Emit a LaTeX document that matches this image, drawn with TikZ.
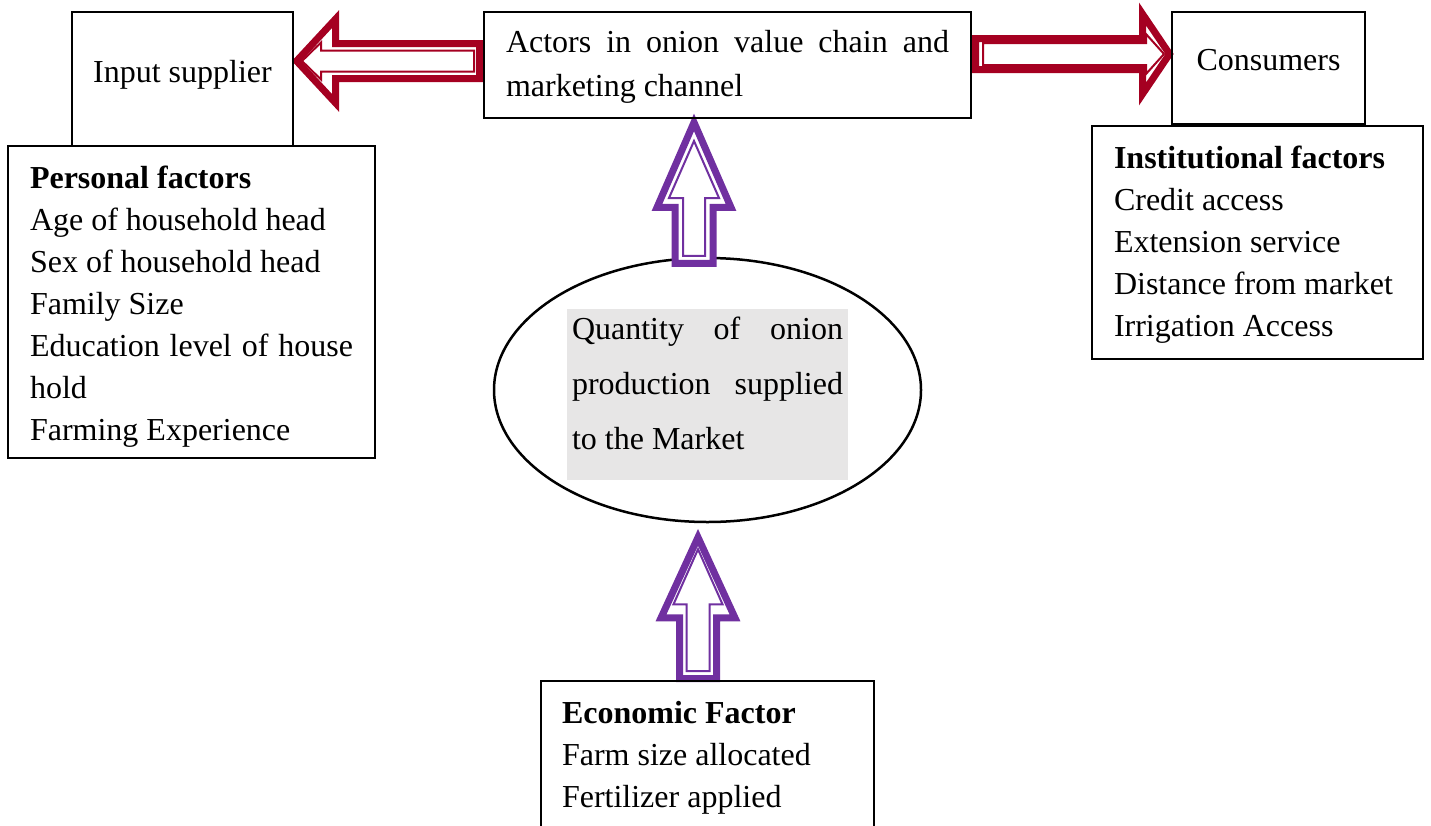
\documentclass[tikz,border=0pt]{standalone}
\usepackage{fontspec}
\setmainfont{Liberation Serif}
\usetikzlibrary{calc,shapes.geometric,backgrounds}
\definecolor{onionred}{RGB}{165,0,33}
\definecolor{onionpurple}{RGB}{112,48,160}
\definecolor{shadegray}{RGB}{231,230,230}

\tikzset{
  % block arrow parameters: start inset, tip inset, shaft half width, head half width, head length
  ba/.code n args={5}{\def\bastart{#1}\def\batip{#2}\def\bashaft{#3}\def\bahead{#4}\def\balen{#5}},
  blockarrow/.style={to path={
    ($(\tikztostart)!\bastart!(\tikztotarget)$) coordinate (ba-s)
    ($(\tikztotarget)!\batip!(\tikztostart)$) coordinate (ba-t)
    ($(ba-t)!\balen!(ba-s)$) coordinate (ba-b)
    ($(ba-s)!\bashaft!90:(ba-t)$) -- ($(ba-b)!\bashaft!-90:(ba-s)$)
      -- ($(ba-b)!\bahead!-90:(ba-s)$) -- (ba-t)
      -- ($(ba-b)!\bahead!90:(ba-s)$) -- ($(ba-b)!\bashaft!90:(ba-s)$)
      -- ($(ba-s)!\bashaft!-90:(ba-t)$) -- cycle}},
  outband/.style={draw=#1, line width=7pt, fill=white, line join=miter},
  inband/.style={draw=#1, line width=2pt, line join=miter},
  box/.style={draw, line width=2pt, inner sep=0pt},
  factor/.style={box, align=justify, inner xsep=22pt},
}

\begin{document}
\begin{tikzpicture}[x=1pt, y=-1pt, font=\fontsize{32}{42}\selectfont]
  \useasboundingbox (0,0) rectangle (1431,825);
  % Central ellipse (kept under the arrows)
  \begin{pgfonlayer}{background}
    \node[ellipse, draw, line width=2.5pt, minimum width=427pt, minimum height=264pt, inner sep=0pt]
      (qty) at (707.5,390) {};
  \end{pgfonlayer}
  \node[fill=shadegray, minimum width=281pt, minimum height=171pt, text width=271pt,
        inner xsep=5pt, inner ysep=0pt, align=justify, font=\fontsize{32}{55}\selectfont]
    (qtext) at (707.5,394.5)
    {Quantity of onion\linebreak production supplied\linebreak to the Market\rule[-22pt]{0pt}{22pt}};
  % Top row of boxes
  \node[box, minimum width=221pt, minimum height=134pt, text height=22pt, text depth=16pt]
    (inp) at (182.5,79) {Input supplier};
  \node[box, minimum width=487pt, minimum height=106pt, text width=443pt, align=justify,
        font=\fontsize{32}{44}\selectfont]
    (act) at (727.5,65) {\rule{0pt}{26pt}Actors in onion value chain and\linebreak marketing channel};
  \node[box, minimum width=193pt, minimum height=112pt, text height=22pt, text depth=18pt]
    (cons) at (1268.5,68) {Consumers};
  % Factor boxes
  \node[factor, minimum width=367pt, minimum height=312pt, text width=323pt] (pers) at (191.5,302)
    {\rule{0pt}{31pt}\textbf{Personal factors}\\ Age of household head\\ Sex of household head\\ Family Size\\
     Education level of house hold\\ Farming Experience};
  \node[factor, minimum width=331pt, minimum height=233pt, text width=287pt] (inst) at (1257.5,242.5)
    {\rule{0pt}{27pt}\textbf{Institutional factors}\\ Credit access\\ Extension service\\ Distance from market\\
     Irrigation Access};
  \node[factor, inner xsep=21pt, minimum width=333pt, minimum height=146pt, text width=291pt]
    (eco) at (707.5,754)
    {\rule{0pt}{30pt}\textbf{Economic Factor}\\ Farm size allocated\\ Fertilizer applied};
  % Block arrows (under the box borders)
  \begin{pgfonlayer}{background}
    % actors -> input supplier
    \draw[outband=onionred, ba={3.5pt}{2.6pt}{17.5pt}{42pt}{39pt}]
      ([yshift=4pt]act.west) to[blockarrow] ([yshift=18pt]inp.east);
    \draw[inband=onionred, ba={9pt}{8pt}{10.5pt}{18.5pt}{19pt}]
      ([yshift=4pt]act.west) to[blockarrow] ([yshift=18pt]inp.east);
    % actors -> consumers
    \draw[outband=onionred, ba={3.5pt}{1.5pt}{15.5pt}{40pt}{27pt}]
      ([yshift=11pt]act.east) to[blockarrow] ([yshift=14pt]cons.west);
    \draw[inband=onionred, ba={11pt}{7pt}{11pt}{20pt}{18pt}]
      ([yshift=11pt]act.east) to[blockarrow] ([yshift=14pt]cons.west);
    % quantity -> actors
    \draw[outband=onionpurple, ba={3.5pt}{8.4pt}{19pt}{37pt}{85pt}]
      ([xshift=-13.5pt,yshift=-10pt]qty.north) to[blockarrow] ([xshift=-33.5pt,yshift=5pt]act.south);
    \draw[inband=onionpurple, ba={11pt}{27pt}{11pt}{25pt}{57pt}]
      ([xshift=-13.5pt,yshift=-10pt]qty.north) to[blockarrow] ([xshift=-33.5pt,yshift=5pt]act.south);
    % economic factor -> quantity
    \draw[outband=onionpurple, ba={3.5pt}{8.1pt}{18.5pt}{37pt}{80.5pt}]
      ([xshift=-9.5pt,yshift=-2pt]eco.north) to[blockarrow] ([xshift=-9.5pt,yshift=-6pt]qty.south);
    \draw[inband=onionpurple, ba={11pt}{20pt}{11.5pt}{24.5pt}{55pt}]
      ([xshift=-9.5pt,yshift=-2pt]eco.north) to[blockarrow] ([xshift=-9.5pt,yshift=-6pt]qty.south);
  \end{pgfonlayer}
\end{tikzpicture}
\end{document}
